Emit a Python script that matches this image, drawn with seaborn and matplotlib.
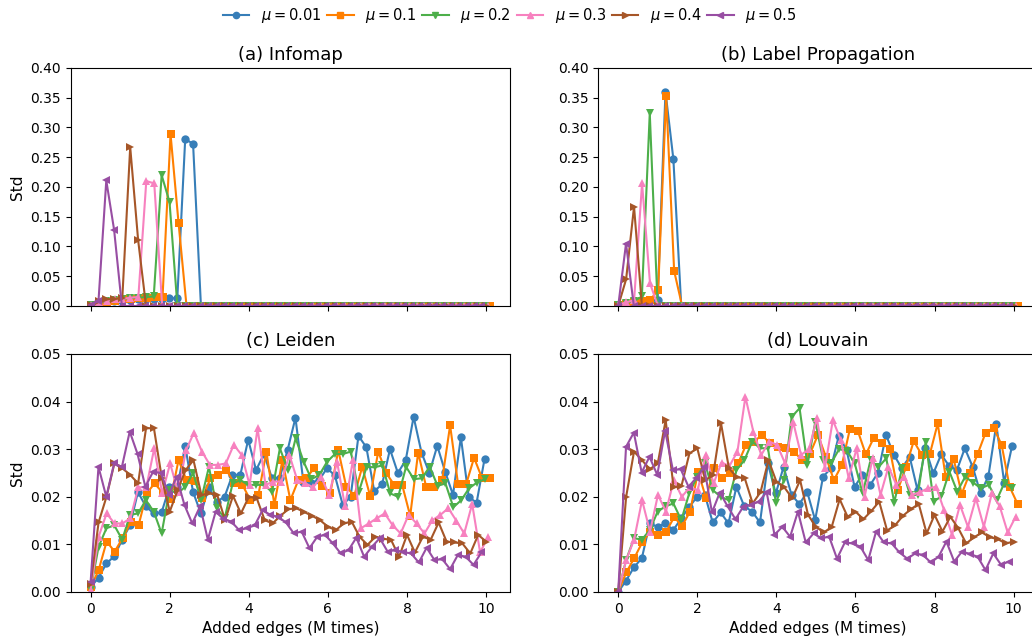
import numpy as np
import pandas as pd
import matplotlib
matplotlib.use('Agg')
import matplotlib.pyplot as plt
from matplotlib.lines import Line2D
import seaborn as sns

mu_values = ['0.01', '0.1', '0.2', '0.3', '0.4', '0.5']
colors = ['#377eb8', '#ff7f00', '#4daf4a', '#f781bf', '#a65628', '#984ea3']
marks = ['o', 's', 'v', '^', '>', '<']
# last x value (M times) of each mu run
x_end = [9.96, 10.1, 9.97, 10.05, 10.0, 9.88]

# (a) Infomap
infomap_001 = [0.002, 0.004, 0.006, 0.008, 0.009, 0.010, 0.011, 0.011, 0.012, 0.012, 0.013, 0.013, 0.280, 0.273] + [0.0] * 37
infomap_01 = [0.002, 0.005, 0.007, 0.009, 0.011, 0.012, 0.013, 0.014, 0.015, 0.015, 0.289, 0.140] + [0.0] * 39
infomap_02 = [0.002, 0.005, 0.008, 0.010, 0.012, 0.013, 0.014, 0.015, 0.016, 0.220, 0.175] + [0.0] * 40
infomap_03 = [0.002, 0.006, 0.009, 0.011, 0.012, 0.014, 0.015, 0.210, 0.206] + [0.0] * 42
infomap_04 = [0.002, 0.008, 0.011, 0.012, 0.013, 0.267, 0.111] + [0.0] * 44
infomap_05 = [0.002, 0.008, 0.211, 0.128] + [0.0] * 47

# (b) Label Propagation
lpa_001 = [0.002, 0.004, 0.006, 0.008, 0.009, 0.010, 0.360, 0.247] + [0.0] * 43
lpa_01 = [0.002, 0.004, 0.006, 0.008, 0.010, 0.027, 0.353, 0.059] + [0.0] * 43
lpa_02 = [0.002, 0.005, 0.008, 0.016, 0.324] + [0.0] * 46
lpa_03 = [0.002, 0.006, 0.010, 0.206, 0.038] + [0.0] * 46
lpa_04 = [0.0, 0.045, 0.167] + [0.0] * 48
lpa_05 = [0.0, 0.105] + [0.0] * 49

# (c) Leiden
leiden_001 = [0.001, 0.003, 0.006, 0.0075, 0.011, 0.014, 0.021, 0.018, 0.0165, 0.0167,
              0.022, 0.022, 0.0307, 0.021, 0.0165, 0.022, 0.019, 0.020, 0.0246, 0.0246,
              0.032, 0.0256, 0.029, 0.024, 0.024, 0.0298, 0.0366, 0.0232, 0.023, 0.0235,
              0.026, 0.0245, 0.0183, 0.020, 0.0328, 0.0304, 0.0212, 0.0226, 0.030, 0.025,
              0.0277, 0.0368, 0.0293, 0.025, 0.0307, 0.0253, 0.0204, 0.0325, 0.0199, 0.0188, 0.0279]
leiden_01 = [0.001, 0.0046, 0.0106, 0.0085, 0.0113, 0.0146, 0.014, 0.0207, 0.0228, 0.0209,
             0.0195, 0.0277, 0.0235, 0.0234, 0.0198, 0.0239, 0.0246, 0.0256, 0.0228, 0.0225,
             0.0193, 0.0204, 0.0295, 0.0183, 0.0277, 0.0193, 0.0235, 0.024, 0.026, 0.0223,
             0.0207, 0.0298, 0.0221, 0.0202, 0.0263, 0.0201, 0.0295, 0.025, 0.0225, 0.0225,
             0.016, 0.0293, 0.0221, 0.022, 0.0235, 0.035, 0.0226, 0.0226, 0.0282, 0.0239, 0.0239]
leiden_02 = [0.0005, 0.0095, 0.0134, 0.014, 0.011, 0.0162, 0.0165, 0.0193, 0.0169, 0.0123,
             0.0214, 0.0207, 0.0221, 0.025, 0.0193, 0.0263, 0.0176, 0.0155, 0.0228, 0.0235,
             0.0225, 0.0225, 0.0225, 0.021, 0.0302, 0.0256, 0.0323, 0.0274, 0.0237, 0.0246,
             0.0274, 0.029, 0.029, 0.0295, 0.021, 0.0263, 0.0262, 0.0266, 0.0207, 0.02,
             0.0263, 0.0237, 0.0239, 0.0263, 0.0223, 0.0228, 0.0178, 0.0193, 0.0218, 0.023, 0.0237]
leiden_03 = [0.0005, 0.0116, 0.0165, 0.0144, 0.0144, 0.0155, 0.022, 0.022, 0.0302, 0.0207,
             0.027, 0.021, 0.0298, 0.0335, 0.0295, 0.0267, 0.0267, 0.027, 0.0309, 0.0288,
             0.0225, 0.0344, 0.0225, 0.0232, 0.0232, 0.0288, 0.0235, 0.0228, 0.022, 0.0242,
             0.0204, 0.0274, 0.018, 0.0277, 0.0134, 0.0144, 0.0155, 0.0165, 0.014, 0.0123,
             0.0162, 0.0144, 0.0123, 0.0151, 0.0162, 0.0176, 0.015, 0.0123, 0.0185, 0.0083, 0.0116]
leiden_04 = [0.0017, 0.0146, 0.02, 0.027, 0.026, 0.0246, 0.0228, 0.0344, 0.0344, 0.0239,
             0.0169, 0.0214, 0.0256, 0.0277, 0.0204, 0.0207, 0.0204, 0.0151, 0.0202, 0.0165,
             0.02, 0.0197, 0.0151, 0.0144, 0.016, 0.0174, 0.0176, 0.0168, 0.016, 0.0151,
             0.0137, 0.013, 0.0144, 0.0148, 0.0116, 0.0099, 0.0116, 0.0112, 0.0109, 0.0074,
             0.012, 0.0083, 0.0116, 0.011, 0.0146, 0.0106, 0.0104, 0.0102, 0.0081, 0.012, 0.0106]
leiden_05 = [0.0022, 0.0263, 0.02, 0.027, 0.0263, 0.0337, 0.029, 0.0221, 0.0253, 0.025,
             0.0204, 0.0242, 0.0183, 0.0144, 0.018, 0.011, 0.0169, 0.0153, 0.0148, 0.013,
             0.0134, 0.014, 0.0172, 0.0162, 0.0158, 0.0146, 0.0123, 0.0127, 0.0092, 0.0116,
             0.012, 0.0102, 0.0081, 0.0088, 0.0114, 0.0074, 0.0095, 0.0113, 0.0085, 0.0088,
             0.0084, 0.0081, 0.0062, 0.0093, 0.0067, 0.0069, 0.0048, 0.0078, 0.0074, 0.0057, 0.0083]

# (d) Louvain
louvain_001 = [0.0, 0.0024, 0.0052, 0.0071, 0.0144, 0.0137, 0.0144, 0.013, 0.0155, 0.0178,
               0.02, 0.0204, 0.0146, 0.0167, 0.0144, 0.0221, 0.018, 0.0169, 0.0146, 0.027,
               0.0207, 0.0263, 0.0204, 0.0185, 0.021, 0.0151, 0.0242, 0.026, 0.0328, 0.0298,
               0.0221, 0.0246, 0.0225, 0.0251, 0.033, 0.0288, 0.026, 0.0284, 0.0214, 0.0302,
               0.0249, 0.0289, 0.0265, 0.0256, 0.0302, 0.0263, 0.0207, 0.0244, 0.0352, 0.023, 0.0307]
louvain_01 = [0.0, 0.0041, 0.0071, 0.0104, 0.0127, 0.012, 0.0127, 0.0157, 0.0139, 0.0169,
              0.0253, 0.0197, 0.026, 0.0239, 0.025, 0.027, 0.0309, 0.0316, 0.033, 0.0312,
              0.0305, 0.0302, 0.0295, 0.0277, 0.029, 0.033, 0.0284, 0.0235, 0.0267, 0.0342,
              0.0338, 0.0289, 0.0324, 0.0314, 0.030, 0.0214, 0.0262, 0.0317, 0.0288, 0.0289,
              0.0354, 0.0241, 0.0279, 0.0206, 0.0249, 0.029, 0.0335, 0.0345, 0.0309, 0.0221, 0.0185]
louvain_02 = [0.0, 0.0067, 0.0113, 0.011, 0.013, 0.0169, 0.018, 0.0186, 0.0151, 0.0207,
              0.0242, 0.027, 0.0214, 0.0200, 0.0193, 0.0256, 0.0277, 0.0316, 0.0302, 0.0302,
              0.0186, 0.0235, 0.0368, 0.0386, 0.0267, 0.0358, 0.0277, 0.027, 0.03, 0.0297,
              0.027, 0.0207, 0.0277, 0.0262, 0.0281, 0.0188, 0.026, 0.0204, 0.0204, 0.0316,
              0.019, 0.0201, 0.0253, 0.0211, 0.0242, 0.023, 0.0218, 0.0225, 0.0193, 0.023, 0.0218]
louvain_03 = [0.0, 0.0067, 0.011, 0.0193, 0.0127, 0.0204, 0.0169, 0.0235, 0.02, 0.022,
              0.0214, 0.0288, 0.0228, 0.0272, 0.0265, 0.0295, 0.041, 0.0337, 0.0288, 0.0316,
              0.0309, 0.027, 0.0358, 0.0288, 0.030, 0.0365, 0.026, 0.0361, 0.032, 0.0239,
              0.0302, 0.02, 0.0281, 0.0204, 0.0263, 0.0225, 0.0242, 0.0204, 0.021, 0.0218,
              0.0221, 0.0172, 0.012, 0.0183, 0.0137, 0.0197, 0.0137, 0.0207, 0.018, 0.0125, 0.0158]
louvain_04 = [0.0, 0.02, 0.0295, 0.0277, 0.0258, 0.027, 0.0361, 0.022, 0.0223, 0.0291,
              0.0302, 0.0235, 0.0246, 0.0354, 0.026, 0.0241, 0.0239, 0.0186, 0.021, 0.0277,
              0.0232, 0.022, 0.0197, 0.0235, 0.0162, 0.0137, 0.0125, 0.0137, 0.0195, 0.0158,
              0.0169, 0.0153, 0.017, 0.019, 0.0129, 0.014, 0.016, 0.0174, 0.0185, 0.0123,
              0.0162, 0.0127, 0.0158, 0.0134, 0.0102, 0.0115, 0.0125, 0.0115, 0.0111, 0.0102, 0.0106]
louvain_05 = [0.0, 0.0305, 0.0335, 0.0251, 0.0284, 0.0246, 0.0339, 0.0256, 0.0258, 0.0221,
              0.024, 0.0262, 0.0167, 0.0209, 0.018, 0.0153, 0.0179, 0.0183, 0.019, 0.021,
              0.012, 0.0137, 0.0116, 0.0169, 0.0104, 0.0123, 0.0113, 0.0116, 0.007, 0.0104,
              0.0102, 0.0095, 0.0067, 0.0127, 0.0104, 0.0102, 0.0083, 0.007, 0.0081, 0.0078,
              0.0062, 0.0074, 0.0106, 0.0064, 0.0085, 0.008, 0.0074, 0.0046, 0.0081, 0.0057, 0.0064]

panels = [
    ('(a) Infomap', [infomap_001, infomap_01, infomap_02, infomap_03, infomap_04, infomap_05]),
    ('(b) Label Propagation', [lpa_001, lpa_01, lpa_02, lpa_03, lpa_04, lpa_05]),
    ('(c) Leiden', [leiden_001, leiden_01, leiden_02, leiden_03, leiden_04, leiden_05]),
    ('(d) Louvain', [louvain_001, louvain_01, louvain_02, louvain_03, louvain_04, louvain_05]),
]


def to_frame(series):
    ''' long table: x, std, mu '''
    parts = []
    for mu, end, vals in zip(mu_values, x_end, series):
        x = np.linspace(0, end, len(vals))
        parts.append(pd.DataFrame({'x': x, 'std': vals, 'mu': mu}))
    return pd.concat(parts, ignore_index=True)


palette = dict(zip(mu_values, colors))
markers = dict(zip(mu_values, marks))

fig = plt.figure(figsize=(10.32, 6.36), dpi=100)
# axes boxes in figure fractions (left, bottom, width, height)
boxes = [[0.0685, 0.5189, 0.4257, 0.3742],
         [0.5797, 0.5189, 0.4257, 0.3742],
         [0.0685, 0.0692, 0.4257, 0.3742],
         [0.5797, 0.0692, 0.4257, 0.3742]]

for i, (title, series) in enumerate(panels):
    ax = fig.add_axes(boxes[i])
    df = to_frame(series)
    sns.lineplot(data=df, x='x', y='std', hue='mu', style='mu', palette=palette,
                 markers=markers, dashes=False, markersize=6, linewidth=1.5,
                 markeredgewidth=0, errorbar=None, legend=False, ax=ax)
    ax.set_title(title, fontsize=13)
    ax.set_xticks([0, 2, 4, 6, 8, 10])
    ax.tick_params(labelsize=10)
    if i < 2:
        ax.set_ylim(0, 0.40)
        ax.set_yticks(np.arange(0, 0.41, 0.05))
        ax.tick_params(labelbottom=False)
        ax.set_xlabel('')
    else:
        ax.set_ylim(0, 0.05)
        ax.set_yticks(np.arange(0, 0.051, 0.01))
        ax.set_xlabel('Added edges (M times)', fontsize=11)
    if i % 2 == 0:
        ax.set_ylabel('Std', fontsize=11)
    else:
        ax.set_ylabel('')

handles = [Line2D([], [], color=c, marker=m, markersize=4.5, linewidth=1.5) for c, m in zip(colors, marks)]
labels = [r'$\mu=' + mu + '$' for mu in mu_values]
fig.legend(handles, labels, loc='center', bbox_to_anchor=(0.494, 0.975), ncol=6,
           frameon=False, columnspacing=0.4, handlelength=1.8, fontsize=10.5)

fig.savefig('out.png', dpi=100)
